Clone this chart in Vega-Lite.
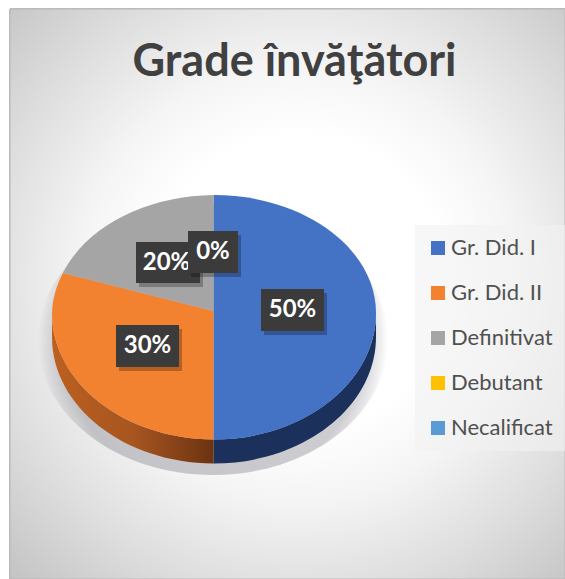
{"$schema":"https://vega.github.io/schema/vega-lite/v6.json","width":555,"height":570,"autosize":{"type":"none"},"padding":{"left":10,"top":9,"right":0,"bottom":0},"background":"white","config":{"view":{"stroke":null}},"title":{"text":"Grade învăţători","font":"Lato","fontSize":45,"fontWeight":"bold","color":"#404040","anchor":"middle","dx":7,"offset":-76},"data":{"values":[{"categorie":"Gr. Did. I","procent":0.5},{"categorie":"Gr. Did. II","procent":0.3},{"categorie":"Definitivat","procent":0.2},{"categorie":"Debutant","procent":0},{"categorie":"Necalificat","procent":0}]},"resolve":{"scale":{"shape":"independent"}},"layer":[{"mark":{"type":"rect","stroke":"#b8b8b8","strokeWidth":1,"fill":{"gradient":"radial","x1":0.52,"y1":0.48,"r1":0,"x2":0.52,"y2":0.48,"r2":0.76,"stops":[{"offset":0,"color":"#ffffff"},{"offset":0.34,"color":"#ffffff"},{"offset":0.5,"color":"#f5f5f5"},{"offset":0.72,"color":"#dedede"},{"offset":1,"color":"#bebebe"}]}},"encoding":{}},{"transform":[{"filter":"datum.categorie === 'Gr. Did. I'"}],"mark":{"type":"point","filled":true,"opacity":1,"size":4,"shape":"M-249.5 46A175 135 0 0 1 100.5 46A175 135 0 0 1 -249.5 46Z","fill":{"gradient":"radial","x1":0.5,"y1":0.5,"r1":0,"x2":0.5,"y2":0.5,"r2":0.5,"stops":[{"offset":0,"color":"rgba(125,125,135,0.4)"},{"offset":0.86,"color":"rgba(125,125,135,0.38)"},{"offset":0.94,"color":"rgba(125,125,135,0.18)"},{"offset":1,"color":"rgba(125,125,135,0)"}]}},"encoding":{}},{"transform":[{"filter":"datum.categorie === 'Gr. Did. I'"}],"mark":{"type":"point","filled":true,"opacity":1,"size":4,"fill":"#1b315c","shape":"M88.5 19A162.5 126.5 0 0 1 -74 145.5V169.5A162.5 126.5 0 0 0 88.5 43Z"},"encoding":{}},{"transform":[{"filter":"datum.categorie === 'Gr. Did. II'"}],"mark":{"type":"point","filled":true,"opacity":1,"size":4,"shape":"M-74 145.5A162.5 126.5 0 0 1 -235.5 19V43A162.5 126.5 0 0 0 -74 169.5Z","fill":{"gradient":"linear","x1":0,"y1":0,"x2":1,"y2":0,"stops":[{"offset":0,"color":"#bb601f"},{"offset":0.5,"color":"#a85520"},{"offset":1,"color":"#6b3311"}]}},"encoding":{}},{"mark":{"type":"point","filled":true,"opacity":1,"size":4,"strokeWidth":0},"encoding":{"color":{"field":"categorie","type":"nominal","scale":{"domain":["Gr. Did. I","Gr. Did. II","Definitivat","Debutant","Necalificat"],"range":["#4472C4","#F28130","#A5A5A5","#FFC000","#5B9BD5"]},"legend":{"title":null,"orient":"none","legendX":405,"legendY":216,"symbolType":"square","symbolSize":196,"symbolStrokeWidth":0,"symbolOpacity":1,"labelFont":"Lato","labelFontSize":22,"labelColor":"#505050","labelOffset":2,"rowPadding":23,"fillColor":"rgba(242,242,242,0.6)","padding":12,"labelLimit":200}},"shape":{"field":"categorie","type":"nominal","legend":null,"scale":{"domain":["Gr. Did. I","Gr. Did. II","Definitivat","Debutant","Necalificat"],"range":["M-74 17L-74 -99A162.5 118 0 0 1 88.5 19A162.5 126.5 0 0 1 -74 145.5Z","M-74 17L-74 145.5A162.5 126.5 0 0 1 -235.5 19A162.5 118 0 0 1 -224.5 -21Z","M-74 17L-224.5 -21A162.5 118 0 0 1 -74 -99Z","M-74 17L-74 17Z","M-74 17L-74 17Z"]}}}},{"transform":[{"filter":"datum.procent > 0"}],"mark":{"type":"point","filled":true,"opacity":0.25,"size":4,"color":"#000000","strokeWidth":0},"encoding":{"shape":{"field":"categorie","type":"nominal","legend":null,"scale":{"domain":["Gr. Did. I","Gr. Did. II","Definitivat"],"range":["M-23.5 -1H39.5V41H-23.5Z","M-168.5 35H-105.5V77H-168.5Z","M-148.5 -48H-84.5V-7H-148.5Z"]}}}},{"transform":[{"filter":"datum.procent > 0"}],"mark":{"type":"point","filled":true,"opacity":1,"size":4,"color":"#3b3b3b","strokeWidth":0},"encoding":{"shape":{"field":"categorie","type":"nominal","legend":null,"scale":{"domain":["Gr. Did. I","Gr. Did. II","Definitivat"],"range":["M-26.5 -5H36.5V37H-26.5Z","M-171.5 31H-108.5V73H-171.5Z","M-151.5 -52H-87.5V-11H-151.5Z"]}}}},{"transform":[{"filter":"datum.categorie === 'Gr. Did. I'"}],"mark":{"type":"text","font":"Lato","fontSize":24,"fontWeight":"bold","color":"#ffffff","baseline":"middle","dx":5,"dy":16},"encoding":{"text":{"field":"procent","type":"quantitative","format":".0%"}}},{"transform":[{"filter":"datum.categorie === 'Gr. Did. II'"}],"mark":{"type":"text","font":"Lato","fontSize":24,"fontWeight":"bold","color":"#ffffff","baseline":"middle","dx":-140,"dy":52},"encoding":{"text":{"field":"procent","type":"quantitative","format":".0%"}}},{"transform":[{"filter":"datum.categorie === 'Definitivat'"}],"mark":{"type":"text","font":"Lato","fontSize":24,"fontWeight":"bold","color":"#ffffff","baseline":"middle","dx":-121,"dy":-31},"encoding":{"text":{"field":"procent","type":"quantitative","format":".0%"}}},{"transform":[{"filter":"datum.categorie === 'Debutant'"}],"mark":{"type":"point","filled":true,"opacity":0.25,"size":4,"color":"#000000","strokeWidth":0,"shape":"M-96.5 -59H-46.5V-17H-96.5Z"},"encoding":{}},{"transform":[{"filter":"datum.categorie === 'Debutant'"}],"mark":{"type":"point","filled":true,"opacity":1,"size":4,"color":"#3b3b3b","strokeWidth":0,"shape":"M-99.5 -63H-49.5V-21H-99.5Z"},"encoding":{}},{"transform":[{"filter":"datum.categorie === 'Debutant'"}],"mark":{"type":"text","font":"Lato","fontSize":24,"fontWeight":"bold","color":"#ffffff","baseline":"middle","dx":-74.5,"dy":-42},"encoding":{"text":{"field":"procent","type":"quantitative","format":".0%"}}}]}
